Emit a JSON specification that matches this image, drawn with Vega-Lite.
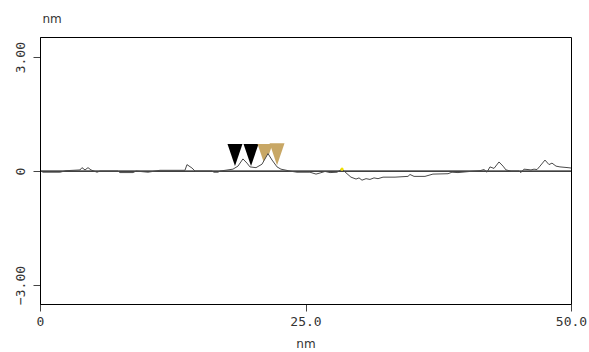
{
  "$schema": "https://vega.github.io/schema/vega-lite/v6.json",
  "width": 531,
  "height": 267,
  "autosize": {"type": "none"},
  "padding": {"left": 40, "top": 37, "right": 18, "bottom": 48},
  "background": "#ffffff",
  "config": {
    "view": {"stroke": "#000000", "strokeWidth": 1},
    "axis": {"grid": false, "domainColor": "#000000", "tickColor": "#444444", "labelColor": "#333333", "labelFont": "DejaVu Sans Mono", "labelFontSize": 13, "titleFont": "DejaVu Sans", "titleFontSize": 12, "titleFontWeight": "normal", "titleColor": "#333333", "tickSize": 7}
  },
  "datasets": {
    "profile": [
      {"x": 0.09, "y": 0}, {"x": 0.28, "y": -0.03}, {"x": 1.88, "y": -0.03}, {"x": 2.45, "y": 0.01},
      {"x": 3.77, "y": 0.03}, {"x": 3.95, "y": 0.09}, {"x": 4.24, "y": 0.03}, {"x": 4.52, "y": 0.09},
      {"x": 4.8, "y": 0.03}, {"x": 5.37, "y": -0.03}, {"x": 5.65, "y": 0}, {"x": 7.34, "y": 0},
      {"x": 7.53, "y": -0.04}, {"x": 8.76, "y": -0.04}, {"x": 9.04, "y": 0}, {"x": 10.17, "y": -0.03},
      {"x": 10.83, "y": 0}, {"x": 11.3, "y": 0.02}, {"x": 13.65, "y": 0.02}, {"x": 13.84, "y": 0.17},
      {"x": 14.31, "y": 0.08}, {"x": 14.6, "y": 0}, {"x": 16.2, "y": 0}, {"x": 16.38, "y": -0.03},
      {"x": 16.76, "y": -0.03}, {"x": 16.95, "y": 0}, {"x": 18.17, "y": 0.05}, {"x": 18.64, "y": 0.13},
      {"x": 19.11, "y": 0.32}, {"x": 19.49, "y": 0.21}, {"x": 19.77, "y": 0.11}, {"x": 20.34, "y": 0.09},
      {"x": 20.9, "y": 0.18}, {"x": 21.47, "y": 0.46}, {"x": 21.85, "y": 0.29}, {"x": 22.32, "y": 0.11},
      {"x": 22.69, "y": 0.05}, {"x": 23.54, "y": 0}, {"x": 24.2, "y": -0.03}, {"x": 25.42, "y": -0.03},
      {"x": 25.99, "y": -0.08}, {"x": 26.37, "y": -0.05}, {"x": 26.84, "y": -0.01}, {"x": 27.31, "y": -0.04},
      {"x": 27.97, "y": -0.03}, {"x": 28.44, "y": 0.05}, {"x": 28.91, "y": -0.07}, {"x": 29.28, "y": -0.16},
      {"x": 29.76, "y": -0.21}, {"x": 30.04, "y": -0.18}, {"x": 30.32, "y": -0.24}, {"x": 30.7, "y": -0.2},
      {"x": 31.07, "y": -0.22}, {"x": 31.45, "y": -0.18}, {"x": 31.83, "y": -0.2}, {"x": 32.3, "y": -0.16},
      {"x": 33.43, "y": -0.16}, {"x": 34.65, "y": -0.14}, {"x": 34.84, "y": -0.09}, {"x": 35.22, "y": -0.14},
      {"x": 36.25, "y": -0.14}, {"x": 37.0, "y": -0.08}, {"x": 38.42, "y": -0.07}, {"x": 38.79, "y": -0.03},
      {"x": 39.36, "y": -0.04}, {"x": 40.49, "y": -0.01}, {"x": 41.43, "y": 0.01}, {"x": 41.81, "y": 0.04},
      {"x": 42.09, "y": -0.03}, {"x": 42.37, "y": 0.11}, {"x": 42.75, "y": 0.07}, {"x": 43.22, "y": 0.24},
      {"x": 43.6, "y": 0.13}, {"x": 43.88, "y": 0.03}, {"x": 44.35, "y": 0}, {"x": 45.1, "y": 0},
      {"x": 45.29, "y": -0.04}, {"x": 45.57, "y": 0.05}, {"x": 45.95, "y": 0.04}, {"x": 46.23, "y": 0.03},
      {"x": 46.52, "y": 0.05}, {"x": 46.8, "y": 0.04}, {"x": 47.08, "y": 0.13}, {"x": 47.55, "y": 0.29},
      {"x": 47.93, "y": 0.17}, {"x": 48.21, "y": 0.21}, {"x": 48.59, "y": 0.13}, {"x": 48.96, "y": 0.11},
      {"x": 49.72, "y": 0.09}, {"x": 50.0, "y": 0.08}
    ],
    "markers": [
      {"x": 18.36, "y": 0.42, "kind": "a"},
      {"x": 19.87, "y": 0.42, "kind": "a"},
      {"x": 21.19, "y": 0.42, "kind": "b"},
      {"x": 22.32, "y": 0.44, "kind": "b"}
    ],
    "zero": [{"x": 0, "y": 0}, {"x": 50, "y": 0}],
    "cursor": [{"x": 28.44, "y": 0.05}]
  },
  "encoding": {
    "x": {
      "field": "x", "type": "quantitative",
      "scale": {"domain": [0, 50], "nice": false, "zero": false},
      "axis": {"values": [0, 25, 50], "title": "nm", "labelFlush": false, "labelPadding": 4, "titlePadding": 10,
               "labelExpr": "datum.value == 0 ? '0' : format(datum.value, '.1f')"}
    },
    "y": {
      "field": "y", "type": "quantitative",
      "scale": {"domain": [-3.5, 3.53], "nice": false, "zero": false},
      "axis": {"values": [-3, 0, 3], "title": "nm", "titleAngle": 0, "titleAlign": "left", "titleBaseline": "alphabetic",
               "titleX": 2, "titleY": -15, "labelAngle": -90, "labelAlign": "center", "labelBaseline": "bottom",
               "labelPadding": 6, "labelFlush": false,
               "labelExpr": "datum.value == 0 ? '0' : format(datum.value, '.2f')"}
    }
  },
  "layer": [
    {
      "data": {"name": "markers"},
      "mark": {"type": "point", "filled": true, "opacity": 1, "shape": "M-0.68,-1L0.68,-1L0,1Z", "size": 484},
      "encoding": {
        "color": {"field": "kind", "type": "nominal", "scale": {"domain": ["a", "b"], "range": ["#000000", "#c8a765"]}, "legend": null}
      }
    },
    {
      "data": {"name": "profile"},
      "mark": {"type": "area", "color": "#ffffff", "opacity": 1},
      "encoding": {"y2": {"datum": 0}}
    },
    {
      "data": {"name": "zero"},
      "mark": {"type": "line", "color": "#000000", "strokeWidth": 1.3},
      "encoding": {}
    },
    {
      "data": {"name": "profile"},
      "mark": {"type": "line", "color": "#4a4a4a", "strokeWidth": 1},
      "encoding": {}
    },
    {
      "data": {"name": "cursor"},
      "mark": {"type": "point", "filled": true, "color": "#f0e000", "size": 10, "opacity": 1},
      "encoding": {}
    }
  ]
}
